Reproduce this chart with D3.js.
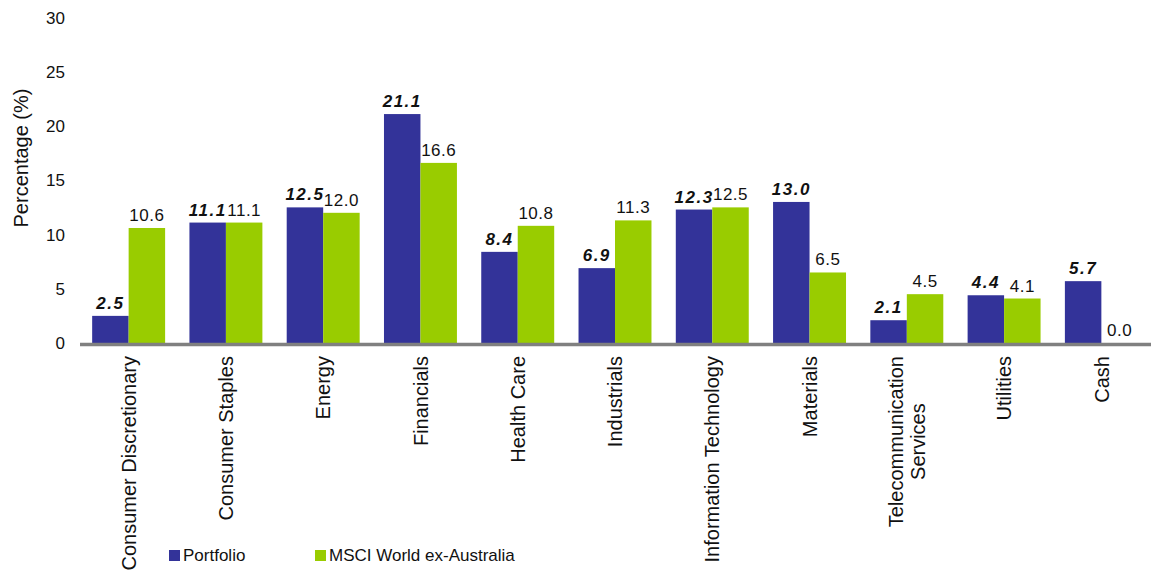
<!DOCTYPE html>
<html>
<head>
<meta charset="utf-8">
<script src="https://cdnjs.cloudflare.com/ajax/libs/d3/7.8.5/d3.min.js"></script>
<style>
  body { margin: 0; background: #fff; }
  svg { display: block; font-family: "Liberation Sans", Arial, sans-serif; }
</style>
</head>
<body>
<svg width="1151" height="576"></svg>
<script>
// Sector allocation, portfolio vs benchmark
var categories = ['Consumer Discretionary', 'Consumer Staples', 'Energy', 'Financials',
    'Health Care', 'Industrials', 'Information Technology', 'Materials',
    'Telecommunication\nServices', 'Utilities', 'Cash'];
var portfolio = [2.5, 11.1, 12.5, 21.1, 8.4, 6.9, 12.3, 13.0, 2.1, 4.4, 5.7];
var benchmark = [10.6, 11.1, 12.0, 16.6, 10.8, 11.3, 12.5, 6.5, 4.5, 4.1, 0.0];
var seriesNames = ['Portfolio', 'MSCI World ex-Australia'];
var yTicks = [0, 5, 10, 15, 20, 25, 30];

var colors = ['#333399', '#99cc00'];

var svg = d3.select('svg');

var rows = categories.map(function(c, i) {
    return {cat: c, values: [portfolio[i], benchmark[i]]};
});

var xScale = d3.scaleBand()
    .domain(categories)
    .range([80, 1150])
    .paddingInner(0.25)
    .paddingOuter(0.125);

var xInner = d3.scaleBand()
    .domain([0, 1])
    .range([0, xScale.bandwidth()]);

var yScale = d3.scaleLinear()
    .domain([0, 30])
    .range([343, 17.5]);

// y axis tick labels (no line)
svg.append('g')
    .selectAll('text')
    .data(yTicks)
    .enter()
    .append('text')
    .attr('x', 65)
    .attr('y', function(d) { return yScale(d); })
    .attr('dy', '0.36em')
    .attr('text-anchor', 'end')
    .style('font-size', '17px')
    .style('fill', '#111')
    .text(function(d) { return d; });

svg.append('text')
    .attr('transform', 'translate(' + [28, 158] + ') rotate(-90)')
    .attr('text-anchor', 'middle')
    .style('font-size', '20px')
    .style('fill', '#111')
    .text('Percentage (%)');

// bars
var groups = svg.selectAll('.cat')
    .data(rows)
    .enter()
    .append('g')
    .attr('class', 'cat')
    .attr('transform', function(d) { return 'translate(' + [xScale(d.cat), 0] + ')'; });

groups.selectAll('rect')
    .data(function(d) { return d.values; })
    .enter()
    .append('rect')
    .attr('x', function(d, i) { return xInner(i); })
    .attr('width', xInner.bandwidth())
    .attr('y', function(d) { return yScale(d); })
    .attr('height', function(d) { return yScale(0) - yScale(d); })
    .style('fill', function(d, i) { return colors[i]; });

groups.selectAll('.val')
    .data(function(d) { return d.values; })
    .enter()
    .append('text')
    .attr('class', 'val')
    .attr('x', function(d, i) { return xInner(i) + xInner.bandwidth() / 2; })
    .attr('y', function(d) { return yScale(d) - 7; })
    .attr('text-anchor', 'middle')
    .style('font-size', '17px')
    .style('letter-spacing', function(d, i) { return i === 0 ? '1.5px' : '0.5px'; })
    .style('font-weight', function(d, i) { return i === 0 ? 'bold' : 'normal'; })
    .style('font-style', function(d, i) { return i === 0 ? 'italic' : 'normal'; })
    .style('fill', '#111')
    .text(function(d) { return d.toFixed(1); });

// baseline
svg.append('line')
    .attr('x1', 80)
    .attr('x2', 1151)
    .attr('y1', yScale(0) + 1.5)
    .attr('y2', yScale(0) + 1.5)
    .style('stroke', '#808080')
    .style('stroke-width', 3.5);

// category labels, rotated
var labelTop = 356;
var labelG = svg.append('g');
categories.forEach(function(c) {
    var lines = c.split('\n');
    var cx = xScale(c) + xScale.bandwidth() / 2;
    var g = labelG.append('g');
    var texts = lines.map(function(line, j) {
        var off = (j - (lines.length - 1) / 2) * 22;
        return g.append('text')
            .attr('transform', 'translate(' + [cx + off, labelTop] + ') rotate(-90)')
            .attr('dy', '0.36em')
            .attr('text-anchor', 'end')
            .style('font-size', '20px')
            .style('fill', '#111')
            .text(line);
    });
    if (texts.length > 1) {
        var lens = texts.map(function(t) { return t.node().getComputedTextLength(); });
        var maxLen = d3.max(lens);
        texts.forEach(function(t, j) {
            var off = (j - (lines.length - 1) / 2) * 22;
            t.attr('transform', 'translate(' + [cx + off, labelTop + (maxLen - lens[j]) / 2] + ') rotate(-90)');
        });
    }
});

// legend
var legendX = [169, 315];
var legend = svg.selectAll('.legend')
    .data(seriesNames)
    .enter()
    .append('g')
    .attr('class', 'legend')
    .attr('transform', function(d, i) { return 'translate(' + [legendX[i], 550] + ')'; });

legend.append('rect')
    .attr('width', 11)
    .attr('height', 11)
    .style('fill', function(d, i) { return colors[i]; });

legend.append('text')
    .attr('x', 14)
    .attr('y', 11)
    .style('font-size', '17px')
    .style('fill', '#111')
    .text(function(d) { return d; });
</script>
</body>
</html>
